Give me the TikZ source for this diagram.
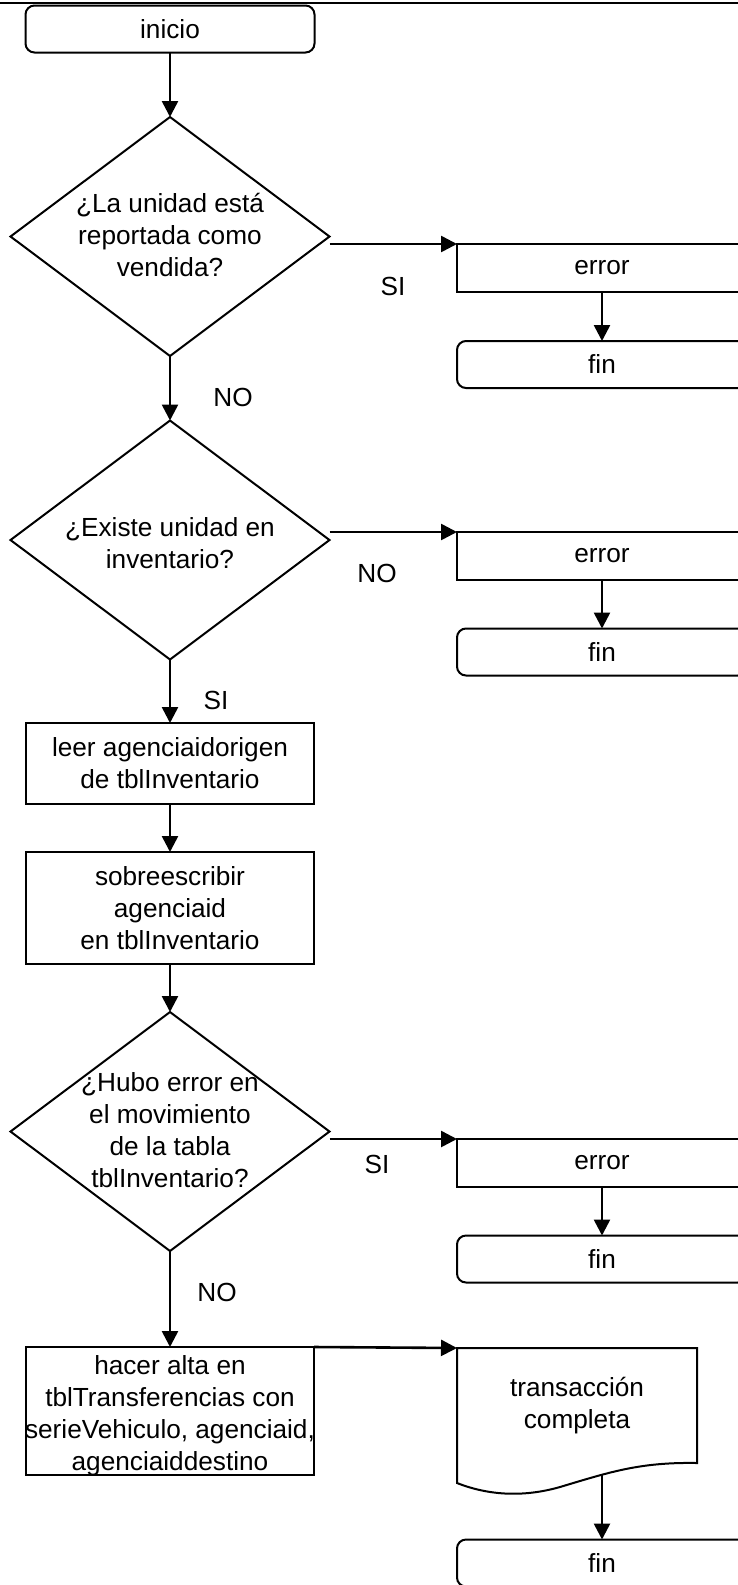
\documentclass[tikz,border=0pt]{standalone}
\usepackage{fontspec}
\setmainfont{Liberation Sans}
\usetikzlibrary{shapes.geometric,arrows.meta,calc}
\begin{document}
\begin{tikzpicture}[x=1pt,y=-1pt,
  every node/.style={font=\fontsize{26.2}{32}\selectfont, outer sep=0pt},
  base/.style={draw, line width=2pt, inner sep=0pt, align=center},
  terminal/.style={base, rectangle, rounded corners=9pt, minimum width=289pt, minimum height=47pt},
  process/.style={base, rectangle, minimum width=288pt},
  sidebox/.style={base, rectangle, minimum width=290pt, minimum height=48pt},
  endbox/.style={base, rectangle, rounded corners=9pt, minimum width=290pt, minimum height=47pt},
  decision/.style={base, diamond, minimum width=319pt, minimum height=239pt},
  txt/.style={inner sep=0pt, align=center},
  flow/.style={line width=2.6pt, -{Triangle[length=16pt,width=16pt]}},
]
\useasboundingbox (0,0) rectangle (738,1585);
\clip (0,0) rectangle (738,1585);

% rule across the top of the page
\draw[line width=2.6pt] (0,3) -- (738,3);

% main column
\node[terminal] (inicio) at (170,29) {inicio};

\node[decision] (d1) at (170,236.5) {};
\node[txt] (d1t) at (170,235) {¿La unidad está\\reportada como\\vendida?};

\node[decision] (d2) at (170,540) {};
\node[txt] (d2t) at (170,543) {¿Existe unidad en\\inventario?};

\node[process, minimum height=81pt] (p1) at (170,763.5) {leer agenciaidorigen\\de tblInventario};
\node[process, minimum height=112pt] (p2) at (170,908) {sobreescribir\\agenciaid\\en tblInventario};

\node[decision] (d3) at (170,1131.5) {};
\node[txt] (d3t) at (170,1130) {¿Hubo error en\\el movimiento\\de la tabla\\tblInventario?};

\node[process, minimum height=128pt] (p3) at (170,1411) {};
\node[txt] (p3t) at (170,1416) {hacer alta en\\tblTransferencias con\\serieVehiculo, agenciaid,\\agenciaiddestino};

% side column
\node[sidebox] (e1) at (602,268) {error};
\node[endbox] (f1) at (602,364.5) {fin};
\node[sidebox] (e2) at (602,556) {error};
\node[endbox] (f2) at (602,652) {fin};
\node[sidebox] (e3) at (602,1163) {error};
\node[endbox] (f3) at (602,1259) {fin};

% document symbol
\node[txt, minimum width=240pt, minimum height=115pt] (doc) at (577,1405.5) {transacción\\completa};
\draw[line width=2pt] (doc.north west) -- (doc.north east) -- (doc.south east)
  .. controls (640,1462) and (610,1472) .. (560,1487)
  .. controls (525,1497) and (490,1496) .. (457,1483) -- cycle;
\coordinate (docb) at (602,1475);
\node[endbox] (f4) at (602,1563) {fin};

% branch labels
\node[txt] (l1) at (393,286) {SI};
\node[txt] (l2) at (233,397) {NO};
\node[txt] (l3) at (377,573) {NO};
\node[txt] (l4) at (216,700) {SI};
\node[txt] (l5) at (377,1164) {SI};
\node[txt] (l6) at (217,1292) {NO};

% connectors
\draw[flow] (inicio.south) -- (d1.north);
\draw[flow] (d1.south) -- (d2.north);
\draw[flow] (d2.south) -- (p1.north);
\draw[flow] (p1.south) -- (p2.north);
\draw[flow] (p2.south) -- (d3.north);
\draw[flow] (d3.south) -- (p3.north);

\draw[flow] (d1.east |- e1.north west) -- (e1.north west);
\draw[flow] (e1.south) -- (f1.north);
\draw[flow] (d2.east |- e2.north west) -- (e2.north west);
\draw[flow] (e2.south) -- (f2.north);
\draw[flow] (d3.east |- e3.north west) -- (e3.north west);
\draw[flow] (e3.south) -- (f3.north);

\draw[flow] (p3.north east) -- (doc.north west);
\draw[flow] (docb) -- (f4.north);
\end{tikzpicture}
\end{document}
